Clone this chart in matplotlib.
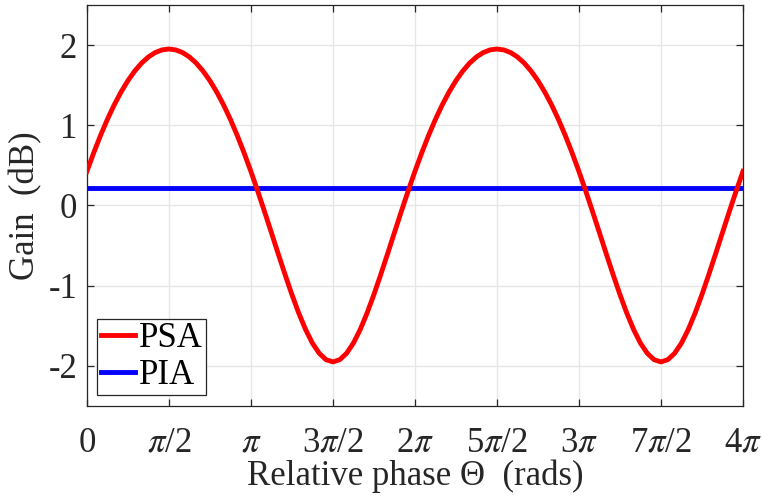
"""
PSA / PIA gain vs relative phase
"""

import numpy as np
import matplotlib
matplotlib.use('Agg')
import matplotlib.pyplot as plt

plt.rcParams['font.family'] = ['Liberation Serif', 'DejaVu Serif']
plt.rcParams['mathtext.fontset'] = 'stix'
plt.rcParams['axes.unicode_minus'] = False

# ============================================================
# data (read from the picture, sampled every pi/24)
# ============================================================
phase_steps = list(range(97))          # phase = step * pi/24
psa_gain = [
    0.424, 0.656, 0.873, 1.073, 1.254, 1.415, 1.556, 1.676, 1.775, 1.852, 1.907, 1.940,
    1.951, 1.940, 1.907, 1.852, 1.775, 1.676, 1.556, 1.415, 1.254, 1.073, 0.873, 0.656,
    0.424, 0.178, -0.078, -0.340, -0.604, -0.863, -1.112, -1.343, -1.548, -1.718, -1.845, -1.925,
    -1.952, -1.925, -1.845, -1.718, -1.548, -1.343, -1.112, -0.863, -0.604, -0.340, -0.078, 0.178,
    0.424, 0.656, 0.873, 1.073, 1.254, 1.415, 1.556, 1.676, 1.775, 1.852, 1.907, 1.940,
    1.951, 1.940, 1.907, 1.852, 1.775, 1.676, 1.556, 1.415, 1.254, 1.073, 0.873, 0.656,
    0.424, 0.178, -0.078, -0.340, -0.604, -0.863, -1.112, -1.343, -1.548, -1.718, -1.845, -1.925,
    -1.952, -1.925, -1.845, -1.718, -1.548, -1.343, -1.112, -0.863, -0.604, -0.340, -0.078, 0.178,
    0.424,
]
pia_gain = 0.22

x_ticklabels = ['0', r'$\pi$/2', r'$\pi$', r'3$\pi$/2', r'2$\pi$',
                r'5$\pi$/2', r'3$\pi$', r'7$\pi$/2', r'4$\pi$']
y_ticks = [-2, -1, 0, 1, 2]
y_ticklabels = ['-2', '-1', '0', '1', '2']

phase = np.array(phase_steps) * np.pi / 24

# ============================================================
# plot
# ============================================================
FS = 25
fig = plt.figure(figsize=(7.62, 5.01), dpi=100)
ax = fig.add_axes([0.114, 0.19, 0.861, 0.80])

ax.plot(phase, psa_gain, color='#ff0000', lw=3.5, label='PSA', zorder=3)
ax.plot([phase[0], phase[-1]], [pia_gain, pia_gain], color='#0000ff', lw=3.5,
        label='PIA', zorder=2)

ax.set_xlim(0, 4 * np.pi)
ax.set_ylim(-2.5, 2.5)
ax.set_xticks(np.arange(9) * np.pi / 2)
ax.set_xticklabels(x_ticklabels)
ax.set_yticks(y_ticks)
ax.set_yticklabels(y_ticklabels)

ax.grid(True, color='#e6e6e6', lw=1.0, zorder=0)
ax.set_axisbelow(True)
for sp in ax.spines.values():
    sp.set_color('#262626')
    sp.set_linewidth(0.9)
ax.tick_params(direction='in', length=5, width=0.9, colors='#262626',
               top=True, right=True, labelsize=FS)
ax.tick_params(axis='x', pad=15)
ax.tick_params(axis='y', pad=7)
for lab in ax.get_xticklabels() + ax.get_yticklabels():
    lab.set_color('#262626')

ax.set_xlabel('Relative phase Θ  (rads)', fontsize=FS, color='#262626', labelpad=0)
ax.set_ylabel('Gain  (dB)', fontsize=FS, color='#262626', labelpad=4)

leg = ax.legend(loc='lower left', fontsize=FS, fancybox=False, framealpha=1,
                edgecolor='#262626', handlelength=1.0, handletextpad=0.1,
                borderpad=0.1, labelspacing=0.1, borderaxespad=0.3)
leg.get_frame().set_linewidth(0.9)

fig.savefig('out.png', dpi=100)
